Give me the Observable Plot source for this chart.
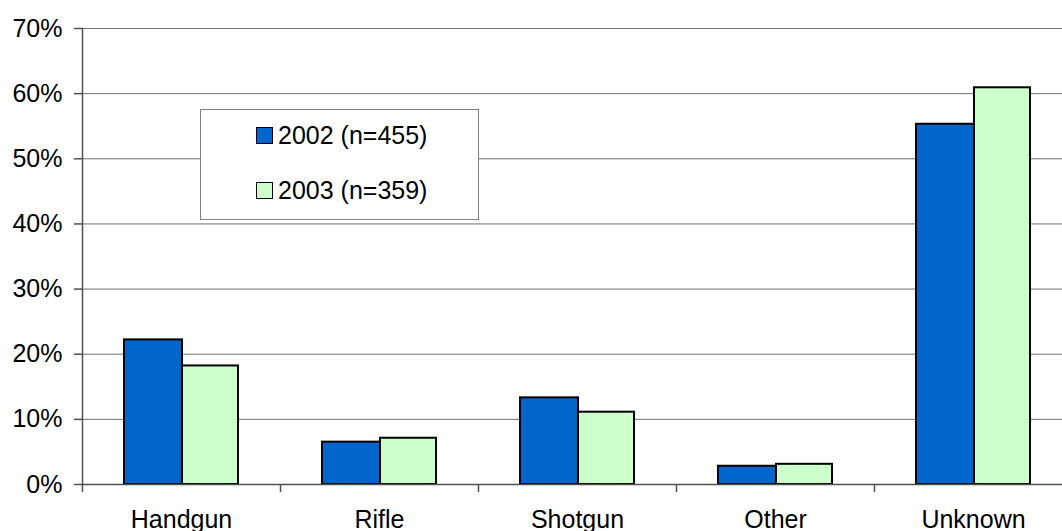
<!DOCTYPE html>
<html>
<head>
<meta charset="utf-8">
<script src="https://cdn.jsdelivr.net/npm/d3@7"></script>
<script src="https://cdn.jsdelivr.net/npm/@observablehq/plot@0.6"></script>
<style>
  html, body { margin: 0; padding: 0; background: #fff; }
  #wrap { position: relative; width: 1062px; height: 531px; overflow: hidden; font-family: "Liberation Sans", Arial, sans-serif; }
  #legend { position: absolute; left: 200px; top: 109px; width: 279px; height: 111px; background: #fff; border: 1px solid #808080; box-sizing: border-box; }
  .item { position: absolute; left: 55px; display: flex; align-items: center; font-size: 25px; color: #000; white-space: nowrap; }
  .sw { width: 15px; height: 15px; border: 1.5px solid #000; margin-right: 5px; }
</style>
</head>
<body>
<div id="wrap"></div>
<script>
const categories = ["Handgun", "Rifle", "Shotgun", "Other", "Unknown"];
const series = ["2002 (n=455)", "2003 (n=359)"];
const values2002 = [22.2, 6.5, 13.3, 2.8, 55.3];
const values2003 = [18.2, 7.1, 11.1, 3.1, 60.9];
const yTicks = [0, 10, 20, 30, 40, 50, 60, 70];
const colors = ["#0066CC", "#CCFFCC"];

const data = [
  ...categories.map((c, i) => ({category: c, series: series[0], value: values2002[i]})),
  ...categories.map((c, i) => ({category: c, series: series[1], value: values2003[i]}))
];

const width = 1062, height = 531;
const marginLeft = 82, marginRight = -10, marginTop = 28, marginBottom = 47;
const step = (width - marginLeft - marginRight) / categories.length;
const font = "Liberation Sans, Arial, sans-serif";

const chart = Plot.plot({
  width, height, marginLeft, marginRight, marginTop, marginBottom,
  style: {fontFamily: font, fontSize: "25px", color: "#000", background: "#fff", overflow: "visible"},
  x: {type: "band", domain: categories, padding: 0, label: null},
  y: {domain: [0, 70], label: null},
  marks: [
    Plot.ruleY(yTicks.slice(1), {y: d => d, stroke: "#707070", strokeWidth: 1, strokeOpacity: 1}),
    Plot.barY(data.filter(d => d.series === series[0]), {x: "category", y: "value", fill: colors[0], stroke: "#000", strokeWidth: 2, insetLeft: 42, insetRight: step - 100}),
    Plot.barY(data.filter(d => d.series === series[1]), {x: "category", y: "value", fill: colors[1], stroke: "#000", strokeWidth: 2, insetLeft: 100, insetRight: 42}),
    Plot.ruleY([0], {stroke: "#505050", strokeWidth: 1.5}),
    Plot.frame({anchor: "left", stroke: "#505050", strokeWidth: 1.5}),
    Plot.axisY({ticks: yTicks, tickFormat: d => d + "%", tickSize: 8, tickPadding: 12, fontSize: 25, stroke: "#505050", strokeWidth: 1.5, label: null}),
    Plot.axisX({tickSize: 8, dx: -step / 2, tickFormat: () => "", stroke: "#505050", strokeWidth: 1.5, label: null}),
    Plot.axisX({tickSize: 0, tickPadding: 26, fontSize: 25, label: null})
  ]
});

const wrap = document.getElementById("wrap");
wrap.appendChild(chart);

const legend = document.createElement("div");
legend.id = "legend";
series.forEach((s, i) => {
  const item = document.createElement("div");
  item.className = "item";
  item.style.top = (i === 0 ? 11 : 66) + "px";
  const sw = document.createElement("div");
  sw.className = "sw";
  sw.style.background = colors[i];
  const t = document.createElement("span");
  t.textContent = s;
  item.appendChild(sw);
  item.appendChild(t);
  legend.appendChild(item);
});
wrap.appendChild(legend);
</script>
</body>
</html>
